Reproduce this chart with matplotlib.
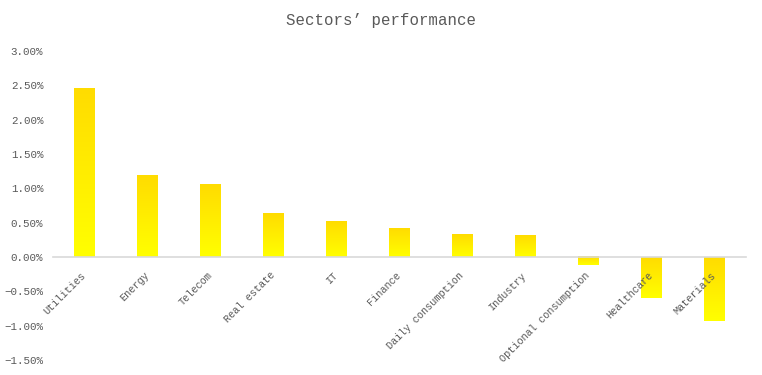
import numpy as np
import matplotlib.pyplot as plt
from matplotlib.colors import LinearSegmentedColormap
from matplotlib.ticker import PercentFormatter

# data
sectors = ['Utilities', 'Energy', 'Telecom', 'Real estate', 'IT', 'Finance',
           'Daily consumption', 'Industry', 'Optional consumption',
           'Healthcare', 'Materials']
perf = [2.46, 1.18, 1.05, 0.64, 0.51, 0.41, 0.33, 0.32, -0.12, -0.59, -0.93]

txt = '#595959'
font = 'Liberation Mono'

fig = plt.figure(figsize=(7.62, 3.75), dpi=100)
ax = fig.add_axes([0.0696, 0.04, 0.9094, 0.824])

x = np.arange(len(sectors))
bars = ax.bar(x, perf, width=0.32, color='none', edgecolor='none')

# vertical gradient: gold on top, yellow at the bottom
cmap = LinearSegmentedColormap.from_list('gy', ['#FFFF00', '#FFDC00'])
grad = np.linspace(0, 1, 100).reshape(-1, 1)
for b in bars:
    x0 = b.get_x()
    y0 = b.get_y()
    h = b.get_height()
    lo, hi = min(y0, y0 + h), max(y0, y0 + h)
    ax.imshow(grad, cmap=cmap, origin='lower', aspect='auto',
              extent=[x0, x0 + b.get_width(), lo, hi], zorder=1)

ax.set_xlim(-0.5, len(sectors) - 0.5)
ax.set_ylim(-1.5, 3.0)
ax.set_yticks(np.arange(-1.5, 3.01, 0.5))
ax.yaxis.set_major_formatter(PercentFormatter(decimals=2))
ax.set_axisbelow(False)  # labels sit on top of the negative bars

for s in ['top', 'right', 'left']:
    ax.spines[s].set_visible(False)
ax.spines['bottom'].set_position(('data', 0))
ax.spines['bottom'].set_color('#D9D9D9')
ax.spines['bottom'].set_linewidth(1.2)

ax.set_xticks(x)
ax.set_xticklabels(sectors, rotation=45, ha='right', va='center',
                   rotation_mode='anchor', fontsize=7.4, color=txt,
                   family=font)
ax.tick_params(axis='x', length=0, pad=12)
ax.tick_params(axis='y', length=0, pad=7, labelsize=7.8, labelcolor=txt)
for lab in ax.get_yticklabels():
    lab.set_family(font)

fig.text(0.5, 0.945, 'Sectors\u2019 performance', ha='center', va='center',
         fontsize=11.3, color=txt, family=font)

fig.savefig('out.png', dpi=100)
